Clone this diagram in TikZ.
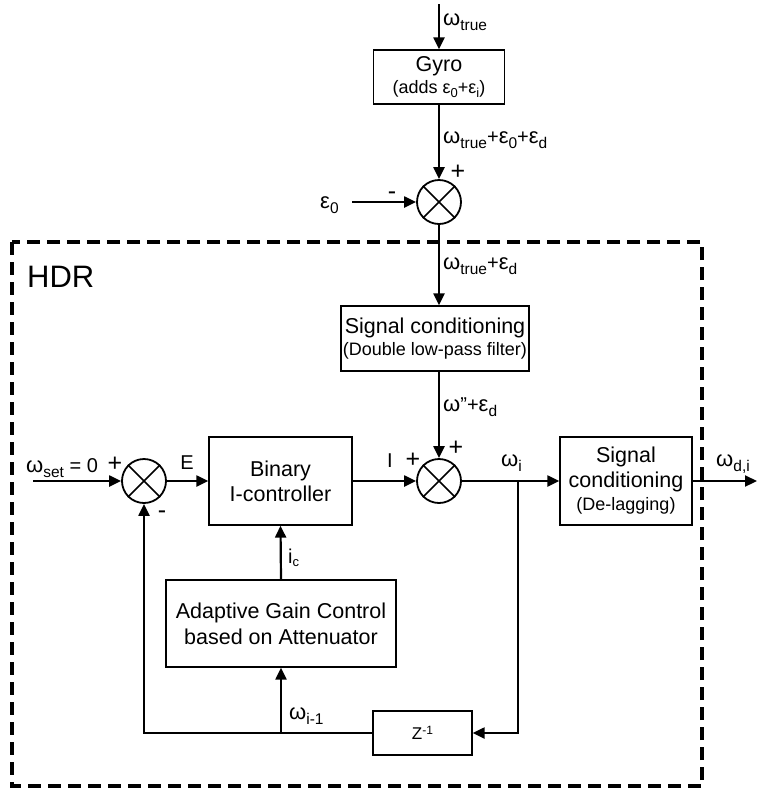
\documentclass[tikz,border=0pt]{standalone}
\usepackage{fontspec}
\setmainfont{Liberation Sans}
\usetikzlibrary{arrows.meta}
\newcommand\gw{{\fontsize{22}{22}\selectfont ω}}
\newcommand\geps{{\fontsize{22}{22}\selectfont ε}}
\newcommand\sbs[1]{\raisebox{-5pt}{\fontsize{15.5}{15.5}\selectfont #1}}
\newcommand\sbss[1]{\raisebox{-3.5pt}{\fontsize{13}{13}\selectfont #1}}
\newcommand\sps[1]{\raisebox{5pt}{\fontsize{12}{12}\selectfont #1}}
\begin{document}
\begin{tikzpicture}[x=1pt,y=-1pt,
  box/.style={draw,line width=1.3pt,inner sep=0pt,align=center,font=\fontsize{21.5}{25}\selectfont},
  sumj/.style={draw,circle,line width=1.8pt,minimum size=44pt,inner sep=0pt},
  conn/.style={line width=2.2pt,-{Triangle[length=12pt,width=11pt]}},
  lbl/.style={inner sep=0pt,font=\fontsize{20}{22}\selectfont},
  sgn/.style={inner sep=0pt,font=\fontsize{25}{25}\selectfont},
  hdr/.style={draw,line width=3.2pt,dash pattern=on 13pt off 7pt}]
\useasboundingbox (0,0) rectangle (759,788);

% dashed HDR frame
\draw[hdr] (12,242) rectangle (702,786);
\node[inner sep=0pt,anchor=base west,font=\fontsize{31}{31}\selectfont] (hdrl) at (27,287) {HDR};

% blocks
\node[box,minimum width=131pt,minimum height=54pt] (gyro) at (439,77)
  {Gyro\\[-3pt]{\fontsize{18}{20}\selectfont (adds ε\sbss{0}+ε\sbss{i})}};
\node[sumj] (s0) at (439,202) {};
\node[box,minimum width=188pt,minimum height=65pt] (sc1) at (435,338.5)
  {Signal conditioning\\[-3pt]{\fontsize{18}{20}\selectfont (Double low-pass filter)}};
\node[sumj] (s2) at (439,481) {};
\node[sumj] (s1) at (144,481) {};
\node[box,minimum width=143pt,minimum height=88pt] (ic) at (280.5,481)
  {Binary\\I-controller};
\node[box,minimum width=132pt,minimum height=88pt] (sc2) at (626,481)
  {Signal\\conditioning\\[-2pt]{\fontsize{18}{20}\selectfont (De-lagging)}};
\node[box,minimum width=230pt,minimum height=87pt,font=\fontsize{21.5}{26}\selectfont] (agc) at (281,623.5)
  {Adaptive Gain Control\\based on Attenuator};
\node[box,minimum width=99pt,minimum height=44pt,font=\fontsize{17}{17}\selectfont] (z) at (422.5,733)
  {Z\sps{-1}};

% crosses in summing junctions
\foreach \s in {s0,s1,s2}
  \draw[line width=1.5pt] (\s.45) -- (\s.225) (\s.135) -- (\s.315);

% coordinates
\coordinate (wt) at (439,4);
\coordinate (e0) at (352,202);
\coordinate (in) at (33,481);
\coordinate (out) at (757,481);
\coordinate (j1) at (518,481);
\coordinate (j2) at (281,733);

% connectors
\draw[conn] (wt) -- (gyro.north);
\draw[conn] (gyro.south) -- (s0.north);
\draw[conn] (e0) -- (s0.west);
\draw[conn] (s0.south) -- (s0.south |- sc1.north);
\draw[conn] (s2.north |- sc1.south) -- (s2.north);
\draw[conn] (in) -- (s1.west);
\draw[conn] (s1.east) -- (ic.west);
\draw[conn] (ic.east) -- (s2.west);
\draw[conn] (s2.east) -- (sc2.west);
\draw[conn] (sc2.east) -- (out);
\draw[conn] (j1) |- (z.east);
\draw[conn] (z.west) -| (s1.south);
\draw[conn] (j2) -- (agc.south);
\draw[conn] (agc.north) -- (ic.south);

% labels
\node[lbl,anchor=base west] (lwt) at (443,25) {\gw\sbs{true}};
\node[lbl,anchor=base west] (lg) at (443,143) {\gw\sbs{true}+\geps\sbs{0}+\geps\sbs{d}};
\node[lbl,anchor=base west] (le0) at (320,208) {\geps\sbs{0}};
\node[sgn] (m0) at (392,196) {-};
\node[sgn] (p0) at (458,172) {+};
\node[lbl,anchor=base west] (lwe) at (443,269) {\gw\sbs{true}+\geps\sbs{d}};
\node[lbl,anchor=base west] (lwpp) at (443,411) {\gw”+\geps\sbs{d}};
\node[sgn] (p2t) at (456,448) {+};
\node[sgn] (p2l) at (413,460) {+};
\node[lbl] (lI) at (390,461) {I};
\node[lbl,anchor=base west] (lwi) at (501,466) {\gw\sbs{i}};
\node[lbl,anchor=base west] (lwdi) at (716,466) {\gw\sbs{d,i}};
\node[lbl,anchor=base west] (lws) at (26,472) {\gw\sbs{set} = 0};
\node[sgn] (p1) at (115,464) {+};
\node[sgn] (m1) at (162,515) {-};
\node[lbl] (lE) at (187,463) {E};
\node[lbl,anchor=base west] (lic) at (288,563) {i\sbss{c}};
\node[lbl,anchor=base west] (lwim) at (289,719) {\gw\sbs{i-1}};
\end{tikzpicture}
\end{document}
